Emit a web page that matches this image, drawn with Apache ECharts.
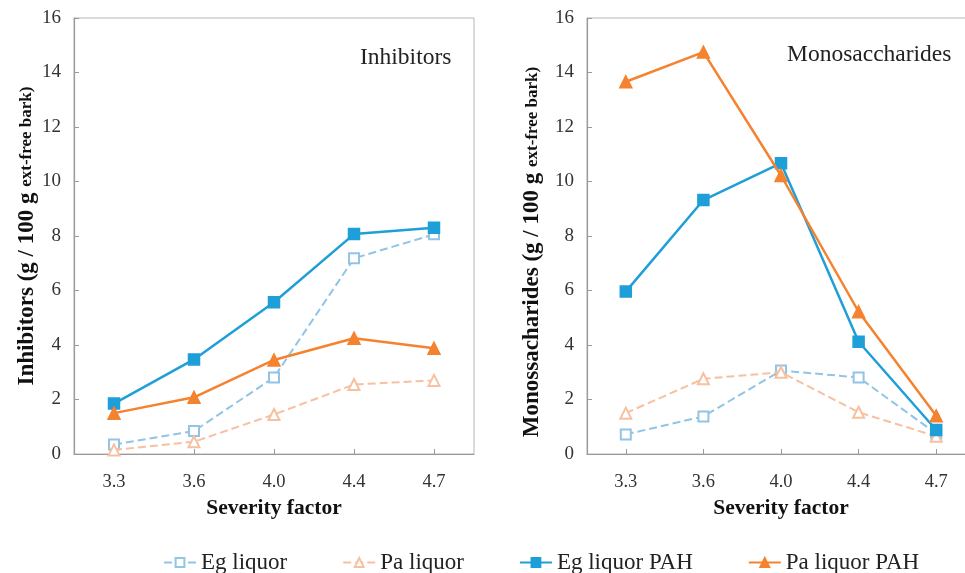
<!DOCTYPE html>
<html>
<head>
<meta charset="utf-8">
<script src="https://cdn.jsdelivr.net/npm/echarts@6/dist/echarts.min.js"></script>
<style>
  html, body { margin: 0; padding: 0; background: #fff; }
  #chart { width: 965px; height: 573px; }
</style>
</head>
<body>
<div id="chart"></div>
<script>
// Severity factor categories
const severity = ['3.3', '3.6', '4.0', '4.4', '4.7'];

// Inhibitors (g / 100 g ext-free bark)
const inhEgLiquor    = [0.35, 0.84, 2.81, 7.18, 8.06];
const inhPaLiquor    = [0.15, 0.45, 1.45, 2.55, 2.7];
const inhEgLiquorPAH = [1.85, 3.47, 5.57, 8.07, 8.3];
const inhPaLiquorPAH = [1.5, 2.08, 3.45, 4.25, 3.88];

// Monosaccharides (g / 100 g ext-free bark)
const monoEgLiquor    = [0.72, 1.38, 3.06, 2.81, 0.75];
const monoPaLiquor    = [1.5, 2.76, 3.0, 1.53, 0.65];
const monoEgLiquorPAH = [5.96, 9.32, 10.67, 4.12, 0.88];
const monoPaLiquorPAH = [13.66, 14.75, 10.22, 5.22, 1.4];

const seriesNames = ['Eg liquor', 'Pa liquor', 'Eg liquor PAH', 'Pa liquor PAH'];

const FONT = '"Liberation Serif", "Times New Roman", serif';
const BLUE = '#1f9fd8';
const ORANGE = '#f5822e';
const LIGHT_BLUE = '#92c4e6';
const LIGHT_ORANGE = '#f7c0a0';
const AXIS = '#9a9a9a';

const seriesStyles = [
  { color: LIGHT_BLUE, type: 'dashed', symbol: 'emptyRect', size: 10, width: 2 },
  { color: LIGHT_ORANGE, type: 'dashed', symbol: 'emptyTriangle', size: 11, width: 2 },
  { color: BLUE, type: 'solid', symbol: 'rect', size: 11, width: 2.5 },
  { color: ORANGE, type: 'solid', symbol: 'triangle', size: 12, width: 2.5 }
];

function makeSeries(idx, data, axisIndex) {
  const s = seriesStyles[idx];
  return {
    name: seriesNames[idx],
    type: 'line',
    xAxisIndex: axisIndex,
    yAxisIndex: axisIndex,
    data: data,
    symbol: s.symbol,
    symbolSize: s.size,
    showAllSymbol: true,
    z: idx + 2,
    lineStyle: { color: s.color, width: s.width, type: s.type },
    itemStyle: { color: s.color, borderColor: s.color, borderWidth: 1.5 },
    emphasis: { disabled: true }
  };
}

function xAxisDef(gridIndex) {
  return {
    type: 'category',
    gridIndex: gridIndex,
    data: severity,
    boundaryGap: true,
    name: 'Severity factor',
    nameLocation: 'middle',
    nameGap: 43,
    nameTextStyle: { fontFamily: FONT, fontSize: 21.5, fontWeight: 'bold', color: '#111' },
    axisLine: { lineStyle: { color: AXIS, width: 1.2 } },
    axisTick: { show: true, inside: true, alignWithLabel: true, length: 5, lineStyle: { color: AXIS } },
    axisLabel: { fontFamily: FONT, fontSize: 18.5, color: '#333', margin: 19 },
    splitLine: { show: false }
  };
}

function yAxisDef(gridIndex, mainTitle, gap, shift) {
  return {
    type: 'value',
    gridIndex: gridIndex,
    min: 0, max: 16, interval: 2,
    name: '{a|' + mainTitle + ' (g / 100 g }{b|ext-free bark)}',
    nameLocation: 'middle',
    nameRotate: 90,
    nameGap: gap,
    nameTextStyle: {
      padding: [0, shift, 0, 0],
      rich: {
        a: { fontFamily: FONT, fontSize: 23, fontWeight: 'bold', color: '#111' },
        b: { fontFamily: FONT, fontSize: 17, fontWeight: 'bold', color: '#111' }
      }
    },
    axisLine: { show: true, lineStyle: { color: AXIS, width: 1.2 } },
    axisTick: { show: true, inside: true, length: 5, lineStyle: { color: AXIS } },
    axisLabel: { fontFamily: FONT, fontSize: 19, color: '#333', margin: 13 },
    splitLine: { show: false }
  };
}

const chart = echarts.init(document.getElementById('chart'), null, { renderer: 'canvas' });

const allSeries = [
  makeSeries(0, inhEgLiquor, 0),
  makeSeries(1, inhPaLiquor, 0),
  makeSeries(2, inhEgLiquorPAH, 0),
  makeSeries(3, inhPaLiquorPAH, 0),
  makeSeries(0, monoEgLiquor, 1),
  makeSeries(1, monoPaLiquor, 1),
  makeSeries(2, monoEgLiquorPAH, 1),
  makeSeries(3, monoPaLiquorPAH, 1)
];

chart.setOption({
  animation: false,
  backgroundColor: '#ffffff',
  textStyle: { fontFamily: FONT },
  grid: [
    { left: 74, top: 18, width: 400, height: 436, show: true, borderColor: '#b5b5b5', borderWidth: 1,
      backgroundColor: 'transparent', outerBoundsMode: 'none', containLabel: false },
    { left: 587, top: 18, width: 388, height: 436, show: true, borderColor: '#b5b5b5', borderWidth: 1,
      backgroundColor: 'transparent', outerBoundsMode: 'none', containLabel: false }
  ],
  xAxis: [xAxisDef(0), xAxisDef(1)],
  yAxis: [yAxisDef(0, 'Inhibitors', 33, 0), yAxisDef(1, 'Monossacharides', 43, 32)],
  legend: {
    data: seriesNames,
    left: 158,
    top: 546,
    itemWidth: 32,
    itemHeight: 11,
    itemGap: 55,
    textStyle: { fontFamily: FONT, fontSize: 23, color: '#222' }
  },
  graphic: [
    { type: 'text', left: 360, top: 46, style: { text: 'Inhibitors', font: '23.5px ' + FONT, fill: '#222' } },
    { type: 'text', left: 787, top: 43, style: { text: 'Monosaccharides', font: '23.5px ' + FONT, fill: '#222' } }
  ],
  series: allSeries
});
</script>
</body>
</html>
